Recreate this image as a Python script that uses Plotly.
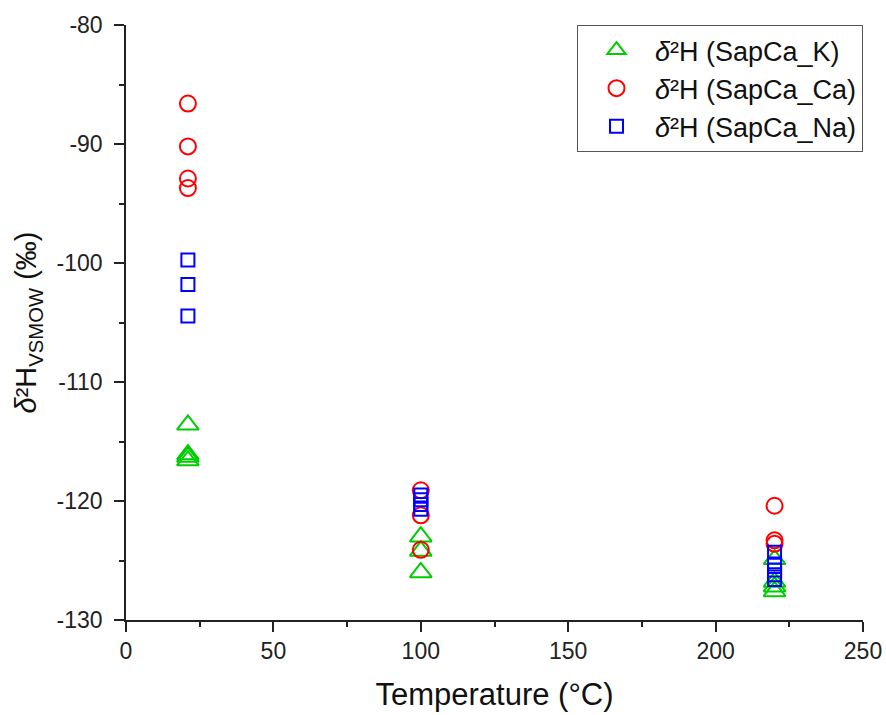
import plotly.graph_objects as go

# Data
temp_K = [21, 21, 21, 21, 100, 100, 100, 220, 220, 220, 220]
d2H_K = [-113.6, -116.1, -116.3, -116.6, -123.0, -124.2, -126.0, -124.9, -126.8, -127.2, -127.6]

temp_Ca = [21, 21, 21, 21, 100, 100, 100, 220, 220, 220]
d2H_Ca = [-86.6, -90.2, -92.9, -93.7, -119.1, -121.2, -124.1, -120.4, -123.3, -123.6]

temp_Na = [21, 21, 21, 100, 100, 100, 100, 220, 220, 220, 220, 220]
d2H_Na = [-99.75, -101.8, -104.45, -119.5, -119.9, -120.3, -120.7, -124.3, -125.3, -125.8, -126.2, -126.6]

names = ["<i>δ</i>²H (SapCa_K)", "<i>δ</i>²H (SapCa_Ca)", "<i>δ</i>²H (SapCa_Na)"]

x_ticks = [0, 50, 100, 150, 200, 250]
x_ticktext = ["0", "50", "100", "150", "200", "250"]
y_ticks = [-130, -120, -110, -100, -90, -80]
y_ticktext = ["-130", "-120", "-110", "-100", "-90", "-80"]

FONT = "Liberation Sans, Arial"

fig = go.Figure()
fig.add_trace(go.Scatter(x=temp_K, y=d2H_K, mode="markers", name=names[0],
                         marker=dict(symbol="triangle-up-open", size=19, color="#00CC00",
                                     line=dict(width=2, color="#00CC00"))))
fig.add_trace(go.Scatter(x=temp_Ca, y=d2H_Ca, mode="markers", name=names[1],
                         marker=dict(symbol="circle-open", size=16, color="#FF0000",
                                     line=dict(width=2, color="#FF0000"))))
fig.add_trace(go.Scatter(x=temp_Na, y=d2H_Na, mode="markers", name=names[2],
                         marker=dict(symbol="square-open", size=13, color="#0000FF",
                                     line=dict(width=2, color="#0000FF"))))

axis_common = dict(showline=True, linecolor="#222", linewidth=1.5, ticks="outside",
                   ticklen=10, tickwidth=1.5, tickcolor="#222", showgrid=False, zeroline=False,
                   mirror=False, automargin=False,
                   tickfont=dict(family=FONT, size=23, color="#222"))

fig.update_layout(
    width=886, height=715,
    margin=dict(l=126, r=23, t=25, b=95),
    paper_bgcolor="white", plot_bgcolor="white",
    font=dict(family=FONT, color="#111"),
    xaxis=dict(range=[0, 250], tickmode="array", tickvals=x_ticks, ticktext=x_ticktext,
               ticklabelstandoff=0,
               title=dict(text="Temperature (°C)", font=dict(size=31), standoff=20),
               minor=dict(dtick=25, tick0=0, ticklen=5, ticks="outside", tickcolor="#222", tickwidth=1.5),
               **axis_common),
    yaxis=dict(range=[-130, -80], tickmode="array", tickvals=y_ticks, ticktext=y_ticktext,
               ticklabelstandoff=7,
               title=dict(text="<i>δ</i>²H<sub>VSMOW</sub> (‰)", font=dict(size=29), standoff=11),
               minor=dict(dtick=5, tick0=-130, ticklen=5, ticks="outside", tickcolor="#222", tickwidth=1.5),
               **axis_common),
    legend=dict(x=1, xanchor="right", y=1, yanchor="top",
                bordercolor="#555", borderwidth=1, bgcolor="white",
                font=dict(size=27, family=FONT, color="#111"),
                itemwidth=67, tracegroupgap=0),
    showlegend=True,
)

fig.write_html("out.html")
